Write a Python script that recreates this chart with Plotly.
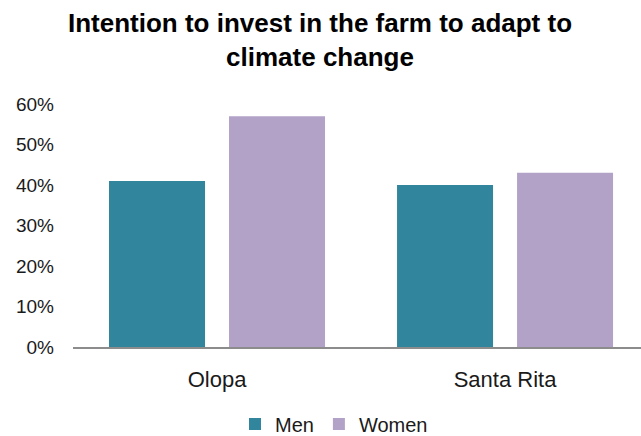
import plotly.graph_objects as go

# Survey sites and share of respondents intending to invest
categories = ["Olopa", "Santa Rita"]
men = [0.41, 0.40]
women = [0.57, 0.43]
y_ticks = [0, 0.1, 0.2, 0.3, 0.4, 0.5, 0.6]
y_tick_labels = ["0%", "10%", "20%", "30%", "40%", "50%", "60%"]

FONT = "Liberation Sans, Arial, sans-serif"

fig = go.Figure()
fig.add_trace(go.Bar(name="Men", x=categories, y=men, marker_color="#31859C",
                     marker_line_width=0))
fig.add_trace(go.Bar(name="Women", x=categories, y=women, marker_color="#B3A2C7",
                     marker_line_width=0))

fig.update_layout(
    width=641, height=436,
    margin=dict(l=73, r=0, t=104, b=89, autoexpand=False),
    paper_bgcolor="white", plot_bgcolor="white",
    barmode="group", bargap=0.1667, bargroupgap=0.2,
    font=dict(family=FONT, color="#1a1a1a", size=20),
    title=dict(
        text="<b>Intention to invest in the farm to adapt to<br>climate change</b>",
        x=320 / 641, xanchor="center", xref="container",
        y=1 - 32 / 436, yanchor="middle", yref="container",
        font=dict(family=FONT, size=26, color="black"),
    ),
    xaxis=dict(
        range=[-0.5, 1.472],
        showline=True, linecolor="#8c8c8c", linewidth=2,
        showgrid=False, ticks="", ticklabelstandoff=12,
        tickfont=dict(size=22, color="#1a1a1a"),
    ),
    yaxis=dict(
        range=[0, 0.6], tickvals=y_ticks, ticktext=y_tick_labels,
        showgrid=False, zeroline=False, showline=False, ticks="",
        ticklabelstandoff=18,
        tickfont=dict(size=19, color="#1a1a1a"),
    ),
    legend=dict(
        orientation="h", x=(334 - 73) / 568, xanchor="center",
        y=(347 - 424) / 243, yanchor="middle",
        font=dict(size=20, color="#1a1a1a"),
        itemwidth=30, traceorder="normal",
    ),
)

fig.write_html("out.html")
